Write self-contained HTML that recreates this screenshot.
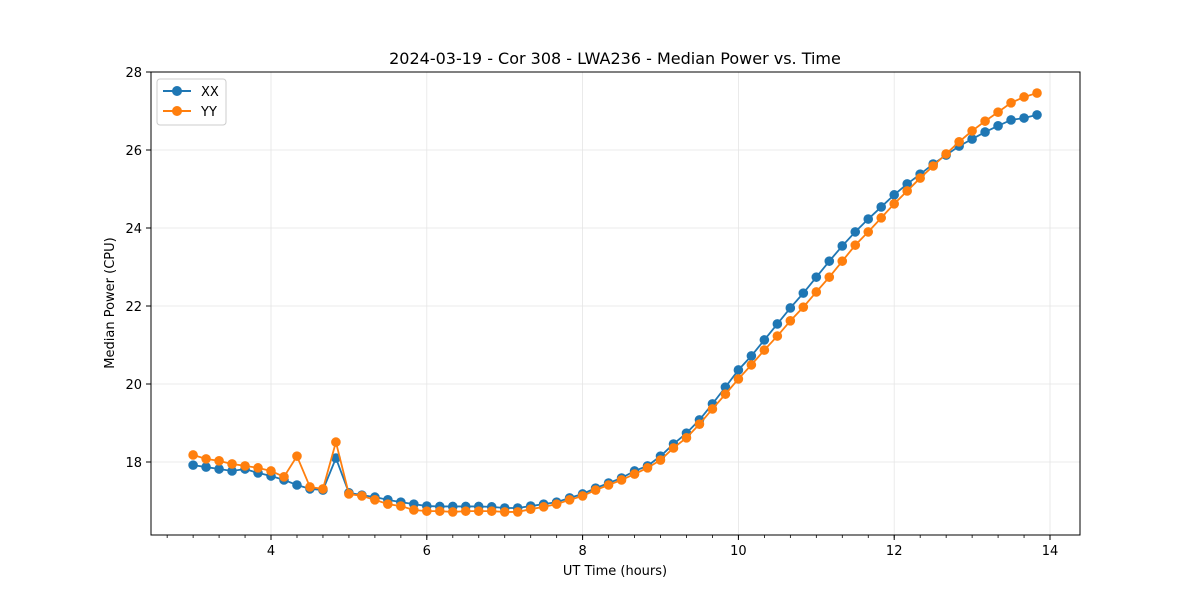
<!DOCTYPE html>
<html><head><meta charset="utf-8"><style>
body{margin:0;background:#fff;font-family:"Liberation Sans","DejaVu Sans",sans-serif}
</style></head><body>
<svg id="chart" width="1200" height="600" xmlns="http://www.w3.org/2000/svg" font-family="DejaVu Sans, Liberation Sans, sans-serif">
<text x="615" y="64" text-anchor="middle" font-size="16">2024-03-19 - Cor 308 - LWA236 - Median Power vs. Time</text>
<g id="grid"></g><g id="axes"></g><g id="series"></g>
<text x="615" y="575" text-anchor="middle" font-size="13">UT Time (hours)</text>
<text transform="translate(114,303) rotate(-90)" text-anchor="middle" font-size="13">Median Power (CPU)</text>
<g>
<rect x="157" y="79" width="69" height="46" fill="#fff" stroke="#ccc" rx="3"/>
<line x1="163" y1="91" x2="191" y2="91" stroke="#1f77b4" stroke-width="2"/><circle cx="177" cy="91" r="5" fill="#1f77b4"/>
<text x="201" y="96" font-size="13">XX</text>
<line x1="163" y1="111" x2="191" y2="111" stroke="#ff7f0e" stroke-width="2"/><circle cx="177" cy="111" r="5" fill="#ff7f0e"/>
<text x="201" y="116" font-size="13">YY</text>
</g>
</svg>
<script>
const xx = [17.92,17.87,17.82,17.77,17.82,17.72,17.64,17.54,17.41,17.31,17.28,18.10,17.21,17.15,17.10,17.03,16.97,16.92,16.87,16.86,16.86,16.86,16.86,16.85,16.82,16.82,16.87,16.92,16.97,17.08,17.18,17.33,17.46,17.59,17.77,17.90,18.15,18.46,18.74,19.08,19.49,19.92,20.36,20.72,21.13,21.54,21.95,22.33,22.74,23.15,23.54,23.90,24.23,24.54,24.85,25.13,25.38,25.64,25.87,26.10,26.28,26.46,26.62,26.77,26.82,26.90];
const yy = [18.18,18.08,18.03,17.95,17.90,17.85,17.77,17.62,18.15,17.36,17.31,18.51,17.18,17.13,17.03,16.92,16.87,16.77,16.74,16.74,16.72,16.74,16.74,16.74,16.72,16.72,16.79,16.85,16.92,17.03,17.13,17.28,17.41,17.54,17.69,17.85,18.05,18.36,18.62,18.97,19.36,19.74,20.13,20.49,20.87,21.23,21.62,21.97,22.36,22.74,23.15,23.56,23.90,24.26,24.62,24.95,25.28,25.59,25.90,26.21,26.49,26.74,26.97,27.21,27.36,27.46];
const xStart = 3.0, xStep = 1/6;
const xTicks = [4,6,8,10,12,14];
const yTicks = [18,20,22,24,26,28];
const L=151,R=1080,T=72,B=535;
const sx=v=>271+(v-4)*77.9;
const sy=v=>72+(28-v)*39;
const NS="http://www.w3.org/2000/svg";
function mk(p,t,a){const e=document.createElementNS(NS,t);for(const k in a)e.setAttribute(k,a[k]);p.appendChild(e);return e;}
const grid=document.getElementById('grid'),axes=document.getElementById('axes'),ser=document.getElementById('series');
xTicks.forEach(v=>{const x=sx(v);
const g=mk(grid,'line',{x1:x,x2:x,y1:T,y2:B,stroke:'#e5e5e5','stroke-width':0.8});


mk(axes,'line',{x1:x,x2:x,y1:B,y2:B+5,stroke:'#000'});
const t=mk(axes,'text',{x:x,y:B+20,'text-anchor':'middle','font-size':13});t.textContent=v;

});
for(let v=2.667;v<14.2;v+=1/3){const x=sx(v);if(x>L&&x<R)mk(axes,'line',{x1:x,x2:x,y1:B,y2:B+3,stroke:'#000','stroke-width':0.8});}
yTicks.forEach(v=>{const y=sy(v);
const g=mk(grid,'line',{x1:L,x2:R,y1:y,y2:y,stroke:'#e5e5e5','stroke-width':0.8});


mk(axes,'line',{x1:L-5,x2:L,y1:y,y2:y,stroke:'#000'});
const t=mk(axes,'text',{x:L-9,y:y+5,'text-anchor':'end','font-size':13});t.textContent=v;

});
const fr=mk(axes,'rect',{x:L,y:T,width:R-L,height:B-T,fill:'none',stroke:'#000','stroke-width':1});


function draw(arr,col,name){
const pts=arr.map((v,i)=>[sx(xStart+i*xStep),sy(v)]);
const pl=mk(ser,'polyline',{points:pts.map(p=>p.join(',')).join(' '),fill:'none',stroke:col,'stroke-width':1.8});


pts.forEach(p=>{const c=mk(ser,'circle',{cx:p[0],cy:p[1],r:4.8,fill:col});

});
}
draw(xx,'#1f77b4','xx');
draw(yy,'#ff7f0e','yy');
</script>
</body></html>
